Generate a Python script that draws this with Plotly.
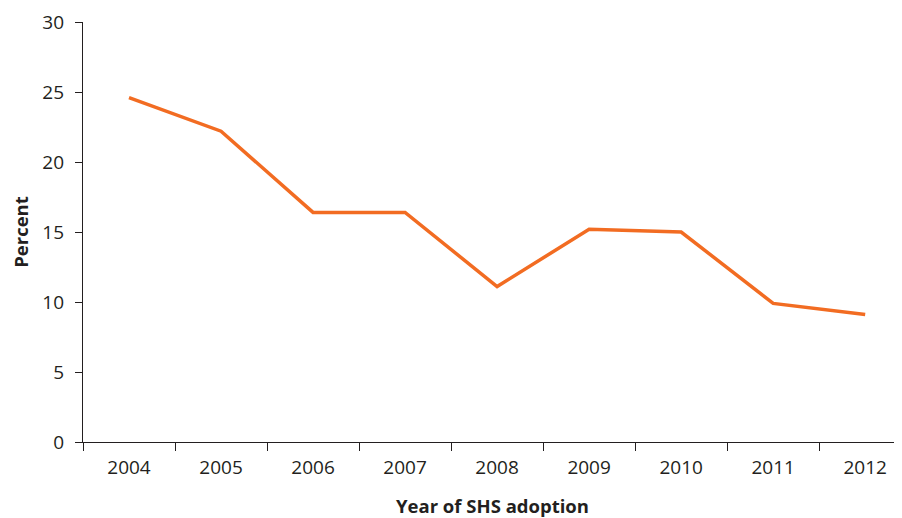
import plotly.graph_objects as go

years = ["2004", "2005", "2006", "2007", "2008", "2009", "2010", "2011", "2012"]
percent = [24.6, 22.2, 16.4, 16.4, 11.1, 15.2, 15.0, 9.9, 9.1]
y_ticks = [0, 5, 10, 15, 20, 25, 30]

fig = go.Figure()
fig.add_trace(go.Scatter(
    x=years, y=percent, mode="lines",
    line=dict(color="#F26C22", width=3.5),
    hoverinfo="x+y",
))

font_family = "Open Sans, Noto Sans, sans-serif"
# page body has an 8px default margin, so the figure is sized to fill 902x518 from (8, 8)
fig.update_layout(
    width=894, height=510,
    margin=dict(l=75, r=0, t=14, b=76, autoexpand=False),
    paper_bgcolor="white", plot_bgcolor="white",
    showlegend=False,
    font=dict(family=font_family, size=19, color="#231F20"),
    xaxis=dict(
        type="category",
        range=[-0.5, 8.40],
        automargin=False,
        showline=True, linecolor="#231F20", linewidth=1.3,
        ticks="outside", tickson="boundaries", ticklen=8, tickwidth=1.3, tickcolor="#231F20",
        showgrid=False, zeroline=False,
        tickfont=dict(size=19),
        ticklabelstandoff=8,
        title=dict(text="<b>Year of SHS adoption</b>", font=dict(size=18.5), standoff=29),
    ),
    yaxis=dict(
        range=[0, 30], tickvals=y_ticks,
        automargin=False,
        showline=True, linecolor="#231F20", linewidth=1.3,
        ticks="outside", ticklen=7, tickwidth=1.3, tickcolor="#231F20",
        showgrid=False, zeroline=False,
        tickfont=dict(size=19),
        ticklabelstandoff=7,
        title=dict(text="<b>Percent</b>", font=dict(size=18.5), standoff=26),
    ),
)

fig.write_html("out.html")
